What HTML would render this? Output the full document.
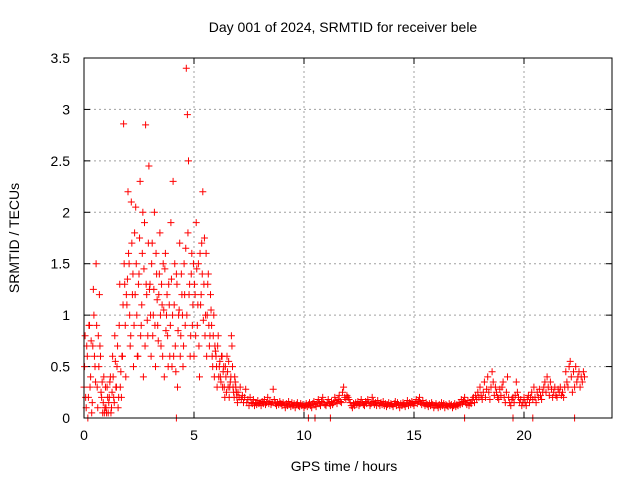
<!DOCTYPE html>
<html><head><meta charset="utf-8"><style>
body{margin:0;background:#fff;}
svg text{font-family:"Liberation Sans",sans-serif;font-size:14px;fill:#000;}
</style></head><body>
<svg id="chart" width="640" height="480">
<rect width="640" height="480" fill="#fff"/>
<text x="343" y="32" text-anchor="middle">Day 001 of 2024, SRMTID for receiver bele</text>
<text x="344" y="471" text-anchor="middle">GPS time / hours</text>
<text transform="translate(19,238) rotate(-90)" text-anchor="middle">SRMTID / TECUs</text>
<g id="grid"></g><g id="ticks"></g><g id="marks"></g>
<rect x="84" y="58" width="528" height="360" fill="none" stroke="#000" stroke-width="1"/>
</svg>
<script>
const xTicks=[0,5,10,15,20];
const yTicks=[0,0.5,1,1.5,2,2.5,3,3.5];
const yTickLabels=["0","0.5","1","1.5","2","2.5","3","3.5"];
const startHour=0, stepHours=0.05;
const srmtid=[
0.3,0.8,0.1,0.6,0.2,0.9,0.4,0.05,0.7,1.0,0.5,1.5,0.3,0.8,1.2,0.6,0.2,0.05,0.4,0.1,
0.1,0.3,0.05,0.2,0.4,0.1,0.6,0.2,0.8,0.3,0.5,0.1,0.9,0.3,0.2,0.6,2.86,1.3,0.4,1.1,
2.2,1.5,0.7,2.1,1.2,0.5,1.8,2.05,1.0,0.6,1.4,2.3,0.9,1.6,0.4,1.9,2.85,1.2,0.8,2.45,
1.3,0.6,1.7,1.0,2.0,0.5,1.4,0.9,1.2,1.8,0.7,1.1,1.5,0.4,1.6,1.0,0.8,1.3,0.6,1.9,
0.5,2.3,1.1,0.7,1.4,0.3,1.0,1.7,0.8,1.2,0.5,1.5,0.9,3.4,2.95,2.5,1.3,0.8,1.6,1.1,
0.6,1.2,1.9,0.9,1.5,0.4,1.1,1.7,2.2,1.3,0.8,1.6,1.0,1.4,0.7,1.2,0.9,0.5,1.0,0.7,
0.6,0.3,0.8,0.5,0.4,0.6,0.3,0.5,0.2,0.4,0.6,0.3,0.2,0.35,0.8,0.5,0.25,0.4,0.3,0.2,
0.25,0.2,0.3,0.18,0.22,0.15,0.2,0.28,0.15,0.18,0.12,0.2,0.15,0.14,0.18,0.12,0.15,0.13,0.17,0.14,
0.15,0.12,0.16,0.14,0.18,0.13,0.15,0.2,0.14,0.16,0.13,0.15,0.28,0.18,0.14,0.12,0.15,0.13,0.16,0.14,
0.12,0.15,0.13,0.1,0.14,0.12,0.16,0.13,0.11,0.15,0.12,0.14,0.1,0.13,0.15,0.12,0.11,0.14,0.12,0.13,
0.1,0.12,0.14,0.11,0.13,0.15,0.12,0.1,0.14,0.16,0.13,0.11,0.15,0.18,0.14,0.12,0.16,0.2,0.15,0.13,
0.12,0.15,0.18,0.14,0.12,0.16,0.13,0.15,0.2,0.17,0.14,0.18,0.22,0.16,0.15,0.25,0.3,0.2,0.18,0.22,
0.2,0.18,0.15,0.12,0.1,0.14,0.12,0.15,0.13,0.16,0.12,0.14,0.18,0.15,0.13,0.12,0.16,0.14,0.18,0.15,
0.12,0.14,0.2,0.16,0.13,0.15,0.12,0.17,0.14,0.12,0.15,0.13,0.16,0.12,0.14,0.11,0.13,0.15,0.12,0.14,
0.13,0.11,0.14,0.16,0.12,0.15,0.13,0.1,0.14,0.12,0.15,0.13,0.11,0.14,0.17,0.12,0.15,0.13,0.16,0.14,
0.12,0.15,0.18,0.14,0.16,0.2,0.15,0.13,0.17,0.14,0.12,0.15,0.13,0.11,0.14,0.12,0.15,0.13,0.1,0.12,
0.14,0.12,0.1,0.13,0.11,0.15,0.12,0.14,0.1,0.13,0.12,0.11,0.14,0.12,0.13,0.1,0.12,0.14,0.11,0.13,
0.12,0.15,0.13,0.18,0.14,0.16,0.2,0.15,0.13,0.17,0.12,0.15,0.14,0.18,0.2,0.15,0.22,0.18,0.25,0.2,
0.3,0.22,0.18,0.25,0.35,0.2,0.28,0.4,0.25,0.18,0.3,0.45,0.35,0.22,0.3,0.25,0.2,0.18,0.28,0.22,
0.3,0.35,0.2,0.15,0.25,0.4,0.2,0.15,0.12,0.18,0.2,0.15,0.22,0.35,0.25,0.2,0.15,0.18,0.12,0.15,
0.2,0.15,0.12,0.18,0.22,0.15,0.2,0.25,0.18,0.3,0.2,0.15,0.25,0.2,0.28,0.22,0.18,0.25,0.3,0.35,
0.25,0.4,0.3,0.22,0.35,0.28,0.2,0.25,0.3,0.22,0.2,0.28,0.25,0.3,0.22,0.25,0.2,0.3,0.45,0.35,
0.3,0.5,0.55,0.4,0.25,0.45,0.3,0.5,0.35,0.4,0.45,0.3,0.4,0.35,0.45,0.4];
const startHour2=0.025;
const srmtid2=[
0.5,0.2,0.7,0.0,0.9,0.3,0.75,0.15,1.25,0.6,0.35,0.9,0.1,0.5,0.7,0.25,0.35,0.15,0.05,0.3,
0.05,0.2,0.15,0.35,0.05,0.25,0.4,0.15,0.55,0.3,0.7,0.2,1.3,0.45,0.6,1.1,1.5,0.9,1.2,1.35,
1.6,1.0,0.8,1.7,1.4,0.9,1.2,1.5,0.6,1.3,1.75,0.8,1.1,2.0,1.45,0.7,1.3,0.95,1.7,1.25,
1.0,1.5,0.8,1.25,0.9,1.6,1.15,0.75,1.4,1.0,1.3,0.6,1.05,1.45,0.85,1.2,0.5,1.1,0.9,1.35,
1.0,0.6,1.5,0.45,1.3,0.85,1.05,0.6,1.4,1.0,0.7,1.2,1.65,1.0,1.8,1.2,0.6,1.4,0.9,1.5,
1.3,0.8,1.45,1.1,0.7,1.6,1.2,1.4,0.95,1.75,1.0,0.6,1.3,0.9,0.8,1.05,0.6,0.8,0.4,0.65,
0.5,0.7,0.4,0.55,0.35,0.6,0.45,0.3,0.5,0.25,0.45,0.55,0.3,0.4,0.7,0.3,0.2,0.35,0.25,0.15];
const zeroTimes=[4.2,10.2,10.5,11.2,17.3,19.5,20.4,22.3];
const zeroValues=[0,0,0,0,0,0,0,0];

const X0=84,X1=612,Y0=418,Y1=58,XMAX=24,YMAX=3.5;
const xs=v=>X0+(X1-X0)*v/XMAX;
const ys=v=>Y0-(Y0-Y1)*v/YMAX;
const NS="http://www.w3.org/2000/svg";
function mk(tag,attrs,parent){const e=document.createElementNS(NS,tag);for(const k in attrs)e.setAttribute(k,attrs[k]);parent.appendChild(e);return e;}
const grid=document.getElementById('grid'),ticks=document.getElementById('ticks'),marks=document.getElementById('marks');
xTicks.forEach(t=>{const x=xs(t);
 if(t>0){const g=mk('line',{x1:x,x2:x,y1:Y0,y2:Y1,stroke:'#a0a0a0','stroke-dasharray':'2,3'},grid);
 
 }
 mk('line',{x1:x,x2:x,y1:Y0,y2:Y0-6,stroke:'#000'},ticks);
 mk('line',{x1:x,x2:x,y1:Y1,y2:Y1+6,stroke:'#000'},ticks);
 const l=mk('text',{x:x,y:Y0+22,'text-anchor':'middle'},ticks);l.textContent=t;
 
 });
yTicks.forEach((t,i)=>{const y=ys(t);
 if(t>0&&t<YMAX){const g=mk('line',{x1:X0,x2:X1,y1:y,y2:y,stroke:'#a0a0a0','stroke-dasharray':'2,3'},grid);
 
 }
 mk('line',{x1:X0,x2:X0+6,y1:y,y2:y,stroke:'#000'},ticks);
 mk('line',{x1:X1,x2:X1-6,y1:y,y2:y,stroke:'#000'},ticks);
 const l=mk('text',{x:70,y:y+5,'text-anchor':'end'},ticks);l.textContent=yTickLabels[i];
 
 });
function plus(t,v){const x=xs(t),y=ys(v);
 const p=mk('path',{d:`M${x-3.5},${y}h7M${x},${y-3.5}v7`,stroke:'#f00','stroke-width':1,fill:'none'},marks);
 
 }
srmtid.forEach((v,i)=>plus(startHour+i*stepHours,v));
srmtid2.forEach((v,i)=>plus(startHour2+i*stepHours,v));
zeroTimes.forEach((t,i)=>plus(t,zeroValues[i]));
</script>
</body></html>
